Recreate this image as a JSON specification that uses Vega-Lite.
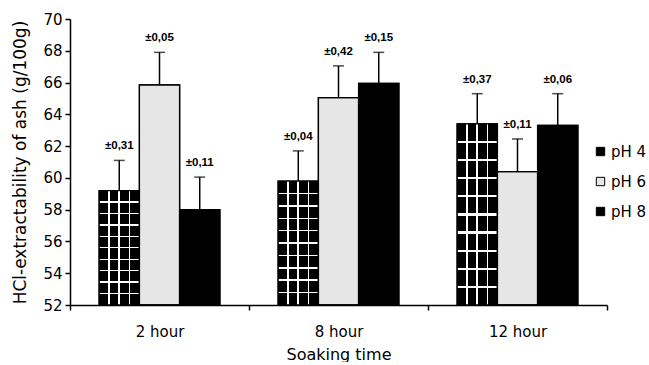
{
  "$schema": "https://vega.github.io/schema/vega-lite/v6.json",
  "width": 537,
  "height": 286,
  "padding": {"left": 11, "top": 12, "right": 0, "bottom": 0},
  "config": {
    "view": {"stroke": null},
    "font": "DejaVu Sans",
    "axis": {
      "domainColor": "#000000", "domainWidth": 1.5,
      "tickColor": "#000000", "tickWidth": 1.5, "tickSize": 5,
      "labelColor": "#000000", "titleColor": "#000000",
      "labelFont": "DejaVu Sans", "titleFont": "DejaVu Sans",
      "labelFontSize": 15, "titleFontSize": 16, "titleFontWeight": "normal",
      "grid": false
    }
  },
  "data": {
    "values": [
      {"time": "2 hour", "pH": "pH 4", "value": 59.2, "err": 61.1, "label": "±0,31"},
      {"time": "2 hour", "pH": "pH 6", "value": 65.85, "err": 67.9, "label": "±0,05"},
      {"time": "2 hour", "pH": "pH 8", "value": 58.0, "err": 60.05, "label": "±0,11"},
      {"time": "8 hour", "pH": "pH 4", "value": 59.8, "err": 61.7, "label": "±0,04"},
      {"time": "8 hour", "pH": "pH 6", "value": 65.05, "err": 67.05, "label": "±0,42"},
      {"time": "8 hour", "pH": "pH 8", "value": 65.95, "err": 67.9, "label": "±0,15"},
      {"time": "12 hour", "pH": "pH 4", "value": 63.4, "err": 65.3, "label": "±0,37"},
      {"time": "12 hour", "pH": "pH 6", "value": 60.4, "err": 62.45, "label": "±0,11"},
      {"time": "12 hour", "pH": "pH 8", "value": 63.3, "err": 65.3, "label": "±0,06"}
    ]
  },
  "encoding": {
    "x": {
      "field": "time", "type": "nominal",
      "sort": ["2 hour", "8 hour", "12 hour"],
      "scale": {"paddingInner": 0, "paddingOuter": 0},
      "axis": {"title": "Soaking time", "labelAngle": 0, "tickBand": "extent", "labelPadding": 14, "titlePadding": 7}
    },
    "xOffset": {
      "field": "pH", "type": "nominal",
      "scale": {"domain": ["pH 4", "pH 6", "pH 8"], "paddingOuter": 0.725, "paddingInner": 0}
    },
    "y": {
      "field": "value", "type": "quantitative",
      "scale": {"domain": [52, 70], "nice": false, "zero": false},
      "axis": {
        "title": "HCl-extractability of ash (g/100g)",
        "values": [52, 54, 56, 58, 60, 62, 64, 66, 68, 70],
        "labelOverlap": false,
        "titleFontSize": 17,
        "labelPadding": 3, "titlePadding": 13
      }
    }
  },
  "layer": [
    {
      "mark": {"type": "bar", "stroke": "#000000", "strokeWidth": 1.3},
      "encoding": {
        "y2": {"datum": 52},
        "color": {
          "field": "pH", "type": "nominal",
          "scale": {"domain": ["pH 4", "pH 6", "pH 8"], "range": ["#000000", "#e6e6e6", "#000000"]},
          "legend": {
            "title": null, "orient": "none", "legendX": 523, "legendY": 125,
            "symbolType": "square", "symbolSize": 70,
            "symbolStrokeColor": "#000000", "symbolStrokeWidth": 1,
            "labelFont": "DejaVu Sans", "labelFontSize": 15, "labelColor": "#000000",
            "rowPadding": 14, "labelOffset": 3
          }
        }
      }
    },
    {
      "transform": [{"filter": "datum.pH == 'pH 4'"}],
      "mark": {
        "type": "bar",
        "fill": {
          "gradient": "linear", "x1": 0, "y1": 0, "x2": 1, "y2": 0,
          "stops": [
            {"offset": 0, "color": "rgba(255,255,255,0)"},
            {"offset": 0.23, "color": "rgba(255,255,255,0)"},
            {"offset": 0.23, "color": "#ffffff"},
            {"offset": 0.27, "color": "#ffffff"},
            {"offset": 0.27, "color": "rgba(255,255,255,0)"},
            {"offset": 0.48, "color": "rgba(255,255,255,0)"},
            {"offset": 0.48, "color": "#ffffff"},
            {"offset": 0.52, "color": "#ffffff"},
            {"offset": 0.52, "color": "rgba(255,255,255,0)"},
            {"offset": 0.73, "color": "rgba(255,255,255,0)"},
            {"offset": 0.73, "color": "#ffffff"},
            {"offset": 0.77, "color": "#ffffff"},
            {"offset": 0.77, "color": "rgba(255,255,255,0)"},
            {"offset": 1, "color": "rgba(255,255,255,0)"}
          ]
        }
      },
      "encoding": {
        "y2": {"datum": 52}
      }
    },
    {
      "transform": [{"filter": "datum.pH == 'pH 4'"}],
      "mark": {
        "type": "bar",
        "fill": {
          "gradient": "linear", "x1": 0, "y1": 0, "x2": 0, "y2": 1,
          "stops": [
            {"offset": 0, "color": "rgba(255,255,255,0)"},
            {"offset": 0.094, "color": "rgba(255,255,255,0)"},
            {"offset": 0.094, "color": "#ffffff"},
            {"offset": 0.106, "color": "#ffffff"},
            {"offset": 0.106, "color": "rgba(255,255,255,0)"},
            {"offset": 0.194, "color": "rgba(255,255,255,0)"},
            {"offset": 0.194, "color": "#ffffff"},
            {"offset": 0.206, "color": "#ffffff"},
            {"offset": 0.206, "color": "rgba(255,255,255,0)"},
            {"offset": 0.294, "color": "rgba(255,255,255,0)"},
            {"offset": 0.294, "color": "#ffffff"},
            {"offset": 0.306, "color": "#ffffff"},
            {"offset": 0.306, "color": "rgba(255,255,255,0)"},
            {"offset": 0.394, "color": "rgba(255,255,255,0)"},
            {"offset": 0.394, "color": "#ffffff"},
            {"offset": 0.406, "color": "#ffffff"},
            {"offset": 0.406, "color": "rgba(255,255,255,0)"},
            {"offset": 0.494, "color": "rgba(255,255,255,0)"},
            {"offset": 0.494, "color": "#ffffff"},
            {"offset": 0.506, "color": "#ffffff"},
            {"offset": 0.506, "color": "rgba(255,255,255,0)"},
            {"offset": 0.594, "color": "rgba(255,255,255,0)"},
            {"offset": 0.594, "color": "#ffffff"},
            {"offset": 0.606, "color": "#ffffff"},
            {"offset": 0.606, "color": "rgba(255,255,255,0)"},
            {"offset": 0.694, "color": "rgba(255,255,255,0)"},
            {"offset": 0.694, "color": "#ffffff"},
            {"offset": 0.706, "color": "#ffffff"},
            {"offset": 0.706, "color": "rgba(255,255,255,0)"},
            {"offset": 0.794, "color": "rgba(255,255,255,0)"},
            {"offset": 0.794, "color": "#ffffff"},
            {"offset": 0.806, "color": "#ffffff"},
            {"offset": 0.806, "color": "rgba(255,255,255,0)"},
            {"offset": 0.894, "color": "rgba(255,255,255,0)"},
            {"offset": 0.894, "color": "#ffffff"},
            {"offset": 0.906, "color": "#ffffff"},
            {"offset": 0.906, "color": "rgba(255,255,255,0)"},
            {"offset": 1, "color": "rgba(255,255,255,0)"}
          ]
        }
      },
      "encoding": {
        "y2": {"datum": 52}
      }
    },
    {
      "mark": {"type": "bar", "fill": null, "stroke": "#000000", "strokeWidth": 1.3},
      "encoding": {
        "y2": {"datum": 52}
      }
    },
    {
      "mark": {"type": "rule", "color": "#000000", "strokeWidth": 1.5},
      "encoding": {
        "y2": {"field": "err"}
      }
    },
    {
      "mark": {"type": "tick", "color": "#000000", "thickness": 1.5, "size": 11, "orient": "horizontal"},
      "encoding": {
        "y": {"field": "err", "type": "quantitative"}
      }
    },
    {
      "mark": {"type": "text", "font": "Liberation Sans", "fontWeight": "bold", "fontSize": 11.5, "color": "#000000", "baseline": "alphabetic", "dy": -11},
      "encoding": {
        "y": {"field": "err", "type": "quantitative"},
        "text": {"field": "label"}
      }
    }
  ]
}
